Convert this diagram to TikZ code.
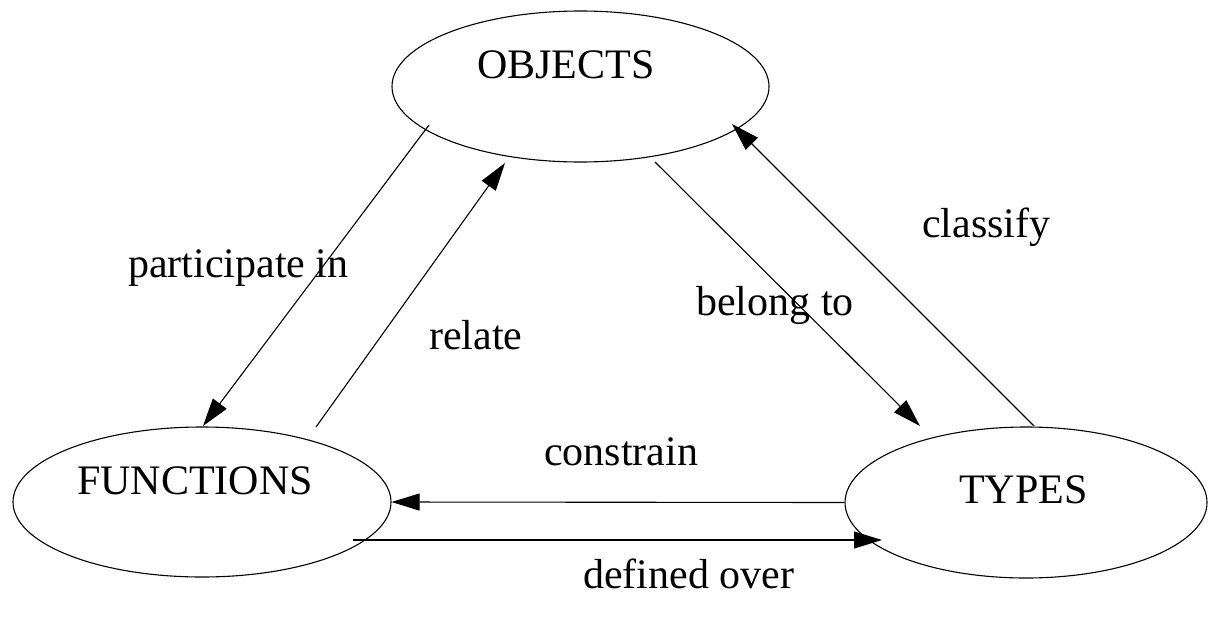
\documentclass[tikz,border=0pt]{standalone}
\usepackage{fontspec}
\setmainfont{Liberation Serif}
\usetikzlibrary{shapes.geometric,arrows.meta}
\begin{document}
\begin{tikzpicture}[x=1pt,y=-1pt,
  conceptbox/.style={draw,line width=1.1pt,ellipse,minimum width=#1,inner sep=0pt},
  txt/.style={anchor=base west,inner sep=0pt,font=\fontsize{42}{50}\selectfont},
  link/.style={line width=1.1pt,-{Triangle[length=28pt,width=17pt]}}]
\useasboundingbox (0,0) rectangle (1209,621);
\node[conceptbox=377pt,minimum height=151pt] (obj) at (580.5,86.5) {};
\node[conceptbox=378pt,minimum height=150pt] (fun) at (202,502) {};
\node[conceptbox=362pt,minimum height=151pt] (typ) at (1026,502.5) {};
\node[txt] (objt) at (477,78) {OBJECTS};
\node[txt] (funt) at (77,494) {FUNCTIONS};
\node[txt] (typt) at (959,503) {TYPES};
% endpoints
\coordinate (p1) at (429,125);
\coordinate (p2) at (203,426);
\coordinate (r1) at (316,427);
\coordinate (r2) at (505,163);
\coordinate (b1) at (655,162);
\coordinate (b2) at (920,426);
\coordinate (c1) at (1034,426);
\coordinate (c2) at (732,124);
\coordinate (d1) at (353,540);
\coordinate (d2) at (882,540);
\draw[link] (p1) -- (p2);
\draw[link] (r1) -- (r2);
\draw[link] (b1) -- (b2);
\draw[link] (c1) -- (c2);
\draw[link] (typ.west) -- (fun.east);
\draw[link] (d1) -- (d2);
% labels
\node[txt] (lp) at (128,277) {participate in};
\node[txt] (lr) at (429,349) {relate};
\node[txt] (lb) at (696,315) {belong to};
\node[txt] (lc) at (922,237) {classify};
\node[txt] (lk) at (544,465) {constrain};
\node[txt] (ld) at (583,588) {defined over};
\end{tikzpicture}
\end{document}
